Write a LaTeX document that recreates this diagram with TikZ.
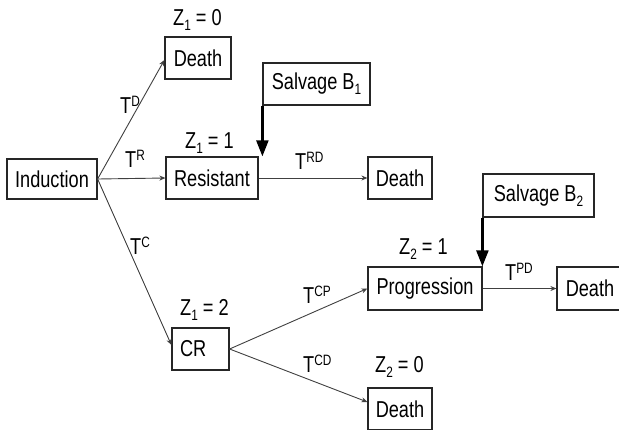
\documentclass[tikz,border=0pt]{standalone}
\usepackage{fontspec}
\setmainfont[FakeStretch=0.79]{Liberation Sans}
\usetikzlibrary{arrows.meta}
\newcommand\mysup[1]{\raisebox{7pt}{\fontsize{15}{15}\selectfont #1}}
\newcommand\mysub[1]{\raisebox{-5pt}{\fontsize{15}{15}\selectfont #1}}
\begin{document}
\begin{tikzpicture}[x=1pt,y=-1pt,
  font=\fontsize{23}{27}\selectfont,
  box/.style={draw=black!85,line width=1.2pt,minimum height=42pt,inner sep=0pt},
  lab/.style={anchor=base west,inner sep=0pt},
  conn/.style={draw=black!75,line width=0.9pt,-{Stealth[length=6pt,width=5pt]}},
  salv/.style={draw=black,line width=2.3pt,-{Triangle[length=16pt,width=12pt]}}]
\clip (0,0) rectangle (619,429);
\fill[white] (0,0) rectangle (619,429);
% boxes
\node[box,minimum width=90pt,minimum height=40pt] (ind) at (52,179) {Induction};
\node[box,minimum width=66pt] (d1) at (198,58) {Death};
\node[box,minimum width=92pt] (res) at (212,178) {Resistant};
\node[box,minimum width=64pt] (d2) at (400,178) {Death};
\node[box,minimum width=107pt] (sb1) at (316.5,84) {Salvage B\mysub{1}};
\node[box,minimum width=111pt,minimum height=43pt] (sb2) at (538.5,195.5) {Salvage B\mysub{2}};
\node[box,minimum width=114pt,minimum height=43pt] (prog) at (425,288.5) {Progression};
\node[box,minimum width=66pt,minimum height=43pt] (d3) at (590,288.5) {Death};
\node[box,minimum width=57pt,text width=41pt,align=left,inner xsep=8pt] (cr) at (200.5,349) {CR};
\node[box,minimum width=64pt] (d4) at (400,409) {Death};
% labels
\node[lab] (z10) at (173,25) {Z\mysub{1} = 0};
\node[lab] (z11) at (185,148) {Z\mysub{1} = 1};
\node[lab] (z12) at (180,315) {Z\mysub{1} = 2};
\node[lab] (z21) at (399,254) {Z\mysub{2} = 1};
\node[lab] (z20) at (375,372) {Z\mysub{2} = 0};
\node[lab] (td) at (120,113) {T\mysup{D}};
\node[lab] (tr) at (125,167) {T\mysup{R}};
\node[lab] (tc) at (130,254) {T\mysup{C}};
\node[lab] (trd) at (295,169) {T\mysup{RD}};
\node[lab] (tcp) at (303,303) {T\mysup{CP}};
\node[lab] (tcd) at (303,372) {T\mysup{CD}};
\node[lab] (tpd) at (505,280) {T\mysup{PD}};
% connectors
\draw[conn] (ind.east) -- ([yshift=-2pt]d1.west);
\draw[conn] (ind.east) -- (res.west);
\draw[conn] (ind.east) -- ([yshift=4pt]cr.west);
\draw[conn] (res.east) -- (d2.west);
\draw[conn] (cr.east) -- (prog.west);
\draw[conn] (cr.east) -- ([yshift=7pt]d4.west);
\draw[conn] (prog.east) -- (d3.west);
\draw[salv] (sb1.south west) -- (sb1.south west |- res.north);
\draw[salv] (sb2.south west) -- (sb2.south west |- prog.north);
\end{tikzpicture}
\end{document}
